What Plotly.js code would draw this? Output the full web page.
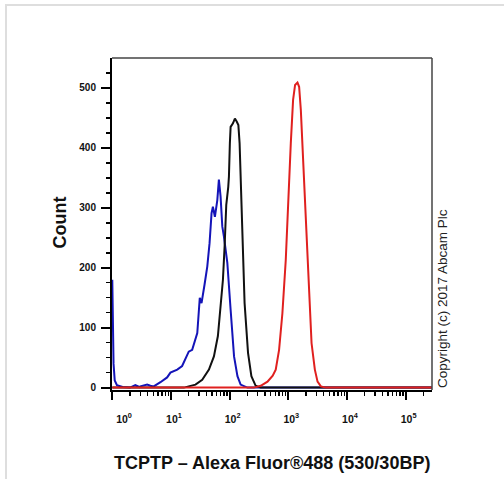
<!DOCTYPE html>
<html>
<head>
<meta charset="utf-8">
<script src="https://cdn.plot.ly/plotly-3.0.1.min.js"></script>
<style>
  html, body { margin: 0; padding: 0; background: #fff; }
  #wrap { position: relative; width: 504px; height: 479px; overflow: hidden; }
  #chart { width: 504px; height: 479px; }
  #frame { position: absolute; left: 5px; top: 4px; width: 520px; height: 500px;
           border-top: 2px solid #dedede; border-left: 2px solid #dedede; pointer-events: none; }
</style>
</head>
<body>
<div id="wrap">
  <div id="chart"></div>
  <div id="frame"></div>
</div>
<script>
// ---- data (fluorescence intensity vs count) ----
const isotypeX = [1.0, 1.02, 1.05, 1.1, 1.2, 1.5, 2.0, 2.47, 2.9, 3.01, 3.92, 4.47, 5.08, 6.62, 8.6, 9.8, 12.8, 15.5, 20.1, 23.0, 28.1, 31.0, 33.2, 37.4, 41.6, 45.5, 49.2, 51.9, 56.1, 61.7, 65.6, 70.1, 75.0, 80.0, 91.4, 104, 119, 136, 154, 201, 280000];
const isotypeY = [180, 110, 40, 12, 4, 1, 0, 4, 1, 2, 5, 3, 2, 9, 17, 25, 30, 36, 60, 63, 91, 150, 141, 172, 202, 241, 291, 302, 285, 313, 347, 319, 269, 252, 208, 130, 52, 19, 5, 0, 0];

const unlabelledX = [1, 16.6, 26.2, 34.1, 44.4, 54.0, 63.1, 70.1, 76.9, 82.2, 87.7, 94.8, 97.3, 101, 104, 114, 123, 132, 141, 148, 154, 158.5, 165, 180, 206, 235, 278, 339, 280000];
const unlabelledY = [0, 0, 5, 13, 30, 52, 86, 130, 180, 236, 305, 335, 352, 408, 435, 441, 449, 444, 438, 408, 352, 297, 252, 141, 58, 19, 3, 0, 0];

const tcptpX = [1, 260, 339, 442, 543, 611, 697, 794, 906, 1007, 1104, 1208, 1306, 1435, 1531, 1637, 1791, 1991, 2213, 2495, 2838, 3155, 3597, 4365, 280000];
const tcptpY = [0, 0, 3, 10, 20, 30, 63, 124, 213, 324, 408, 480, 505, 509, 502, 463, 380, 269, 158, 74, 30, 10, 2, 0, 0];

const xTickVals = [1, 10, 100, 1000, 10000, 100000];
const xTickText = ['&nbsp;&nbsp;&nbsp;&nbsp;&nbsp;&nbsp;10<sup>0</sup>', '10<sup>1</sup>', '10<sup>2</sup>', '10<sup>3</sup>', '10<sup>4</sup>', '10<sup>5</sup>'];
const yTickVals = [0, 100, 200, 300, 400, 500];
const yTickText = ['0', '100', '200', '300', '400', '500'];
const yMinorVals = [25, 50, 75, 125, 150, 175, 225, 250, 275, 325, 350, 375, 425, 450, 475, 525];
const xMinorMult = [2, 3, 4, 5, 6, 7, 8, 9];

const xTitle = 'TCPTP \u2013 Alexa Fluor\u00AE488 (530/30BP)';
const yTitle = 'Count';
const credit = 'Copyright (c) 2017 Abcam Plc';

// minor tick positions on the log axis
const xMinorVals = [];
xTickVals.forEach(d => xMinorMult.forEach(m => { if (Math.log10(d * m) < 5.45) xMinorVals.push(d * m); }));

const FONT = 'Arial, "Liberation Sans", sans-serif';
const X_RANGE = [-0.005, 5.45];
const Y_RANGE = [-4, 550];

const traces = [
  { x: isotypeX, y: isotypeY, type: 'scatter', mode: 'lines', name: 'Isotype',
    line: { color: '#1414b8', width: 2 }, hoverinfo: 'skip' },
  { x: unlabelledX, y: unlabelledY, type: 'scatter', mode: 'lines', name: 'Unlabelled',
    line: { color: '#111111', width: 2 }, hoverinfo: 'skip' },
  { x: tcptpX, y: tcptpY, type: 'scatter', mode: 'lines', name: 'TCPTP',
    line: { color: '#e0201f', width: 2 }, hoverinfo: 'skip' },
  // invisible carrier so the minor-tick overlay axes get drawn
  { x: [1], y: [0], xaxis: 'x2', yaxis: 'y2', type: 'scatter', mode: 'markers',
    marker: { opacity: 0, size: 1 }, hoverinfo: 'skip', showlegend: false }
];

const minorAxisCommon = {
  showgrid: false, zeroline: false, showline: false, showticklabels: false,
  ticks: 'outside', ticklen: 5, tickwidth: 1.5, tickcolor: '#000', tickmode: 'array'
};

const layout = {
  width: 504, height: 479,
  margin: { l: 112, r: 72, t: 58, b: 89, pad: 0 },
  paper_bgcolor: '#ffffff', plot_bgcolor: '#ffffff',
  showlegend: false,
  font: { family: FONT, color: '#111' },
  xaxis: {
    type: 'log', range: X_RANGE, autorange: false,
    showgrid: false, zeroline: false,
    showline: true, linecolor: '#000', linewidth: 2,
    ticks: 'outside', ticklen: 8, tickwidth: 2, tickcolor: '#000',
    tickmode: 'array', tickvals: xTickVals, ticktext: xTickText,
    tickfont: { family: FONT, size: 10.5, color: '#111', weight: 700 },
    ticklabelstandoff: 10, ticklabelshift: 3
  },
  yaxis: {
    range: Y_RANGE, autorange: false,
    showgrid: false, zeroline: false,
    showline: true, linecolor: '#000', linewidth: 2,
    ticks: 'outside', ticklen: 9, tickwidth: 2, tickcolor: '#000',
    tickmode: 'array', tickvals: yTickVals, ticktext: yTickText,
    tickfont: { family: FONT, size: 10, color: '#111', weight: 700 },
    ticklabelstandoff: 3
  },
  xaxis2: Object.assign({}, minorAxisCommon, {
    type: 'log', range: X_RANGE, autorange: false, overlaying: 'x', anchor: 'y', side: 'bottom',
    tickvals: xMinorVals
  }),
  yaxis2: Object.assign({}, minorAxisCommon, {
    range: Y_RANGE, autorange: false, overlaying: 'y', anchor: 'x', side: 'left',
    tickvals: yMinorVals
  }),
  shapes: [
    { type: 'line', xref: 'paper', yref: 'paper', x0: 0, x1: 1, y0: 1, y1: 1, line: { color: '#444', width: 1.5 } },
    { type: 'line', xref: 'paper', yref: 'paper', x0: 1, x1: 1, y0: 0, y1: 1, line: { color: '#444', width: 1.5 } }
  ],
  annotations: [
    { text: xTitle, xref: 'paper', yref: 'paper', x: 0.5, y: -0.22, xanchor: 'center', yanchor: 'middle',
      showarrow: false, font: { family: FONT, size: 18, color: '#111', weight: 700 } },
    { text: yTitle, xref: 'paper', yref: 'paper', x: -0.1656, y: 0.5045, xanchor: 'center', yanchor: 'middle',
      textangle: -90, showarrow: false, font: { family: FONT, size: 18, color: '#111', weight: 700 } },
    { text: credit, xref: 'paper', yref: 'paper', x: 1.0328, y: 0.2756, xanchor: 'center', yanchor: 'middle',
      textangle: -90, showarrow: false, font: { family: FONT, size: 13.5, color: '#222' } }
  ]
};

Plotly.newPlot('chart', traces, layout, { displayModeBar: false, staticPlot: true });
</script>
</body>
</html>
